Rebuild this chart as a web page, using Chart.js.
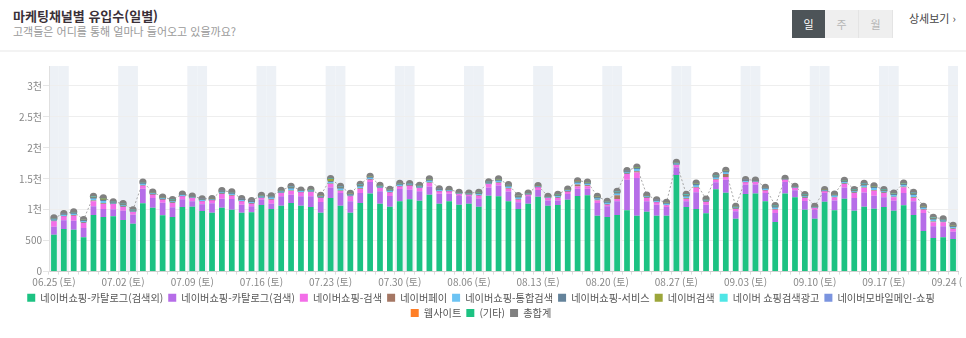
<!DOCTYPE html>
<html lang="ko">
<head>
<meta charset="utf-8">
<script src="https://cdn.jsdelivr.net/npm/chart.js@4.4.1/dist/chart.umd.min.js"></script>
<style>
  html, body { margin: 0; padding: 0; background: #fff; }
  body { width: 966px; height: 338px; position: relative; overflow: hidden;
         font-family: 'Noto Sans CJK KR', 'Noto Sans', sans-serif; }
  .title { position: absolute; left: 13px; top: 6px; font-size: 13px; font-weight: bold; color: #3a3038; }
  .sub { position: absolute; left: 13px; top: 23px; font-size: 11px; color: #9a9a9a; }
  .tabs { position: absolute; left: 792px; top: 10px; display: flex; height: 28px; }
  .tabs span { width: 33px; line-height: 28px; text-align: center; font-size: 11px; background: #efefef; color: #b5b5b5; border-right: 1px solid #e4e4e4; }
  .tabs span.on { background: #4d5458; color: #fff; border-right: none; }
  .more { position: absolute; left: 909px; top: 10px; font-size: 11px; color: #444; }
  .sep { position: absolute; left: 0; top: 50px; width: 966px; height: 2px; background: #f3f3f3; }
  .wrap { position: absolute; left: 0; top: 52px; width: 962px; height: 286px; overflow: hidden; }
</style>
</head>
<body>
<div class="title">마케팅채널별 유입수(일별)</div>
<div class="sub">고객들은 어디를 통해 얼마나 들어오고 있을까요?</div>
<div class="tabs"><span class="on">일</span><span>주</span><span>월</span></div>
<div class="more">상세보기 ›</div>
<div class="sep"></div>
<div class="wrap"><canvas id="chart"></canvas></div>
<script>
// 2022.06.25 (Sat) ~ 2022.09.24 (Sat), daily
const startDate = new Date(2022, 5, 25);
const dayCount = 92;
const dates = [];
for (let i = 0; i < dayCount; i++) {
    dates.push(new Date(startDate.getFullYear(), startDate.getMonth(), startDate.getDate() + i));
}
const labels = dates.map(d => String(d.getMonth() + 1).padStart(2, '0') + '.' + String(d.getDate()).padStart(2, '0'));

const yTickValues = [0, 500, 1000, 1500, 2000, 2500, 3000];
const yMax = 3320;

const catalogEtc = [597,688,677,554,914,882,892,833,774,1102, 1032,909,882,1043,1048,978,952,1032,1000,952,
    957,1075,1011,1064,1107,1064,1043,952,1188,1064, 952,1107,1263,1097,1048,1134,1167,1145,1242,1097,
    1134,1081,1097,1048,1226,1215,1134,1011,1097,1210, 1064,1075,1161,1220,1231,903,882,914,989,903,
    968,903,903,1559,1043,1011,941,1328,1274,855, 1253,1263,1134,801,1263,1199,1000,855,1129,989,
    1177,984,1048,1016,1043,984,1070,914,656,543, 554,527];
const catalogSearch = [129,140,145,151,140,129,113,151,145,237, 156,204,156,124,86,108,151,145,172,129,
    97,86,86,151,134,151,172,172,172,204, 183,161,183,199,172,199,156,151,134,161,
    124,145,118,134,134,177,161,108,118,108, 86,75,91,118,108,204,172,220,495,607,
    167,177,140,124,91,269,140,113,210,118, 151,145,134,145,183,113,140,145,140,161,
    183,204,231,210,156,161,199,220,290,188, 177,118];
const shopSearch = [86,65,81,81,81,81,86,59,43,48, 54,48,70,48,54,48,48,75,54,54,
    43,27,65,54,59,65,70,65,54,32, 81,65,38,54,59,43,65,54,54,38,
    38,27,27,43,54,38,43,43,27,43, 38,38,38,38,38,43,27,38,91,91,
    54,38,27,38,38,75,43,43,43,38, 38,38,43,54,38,38,48,27,27,48,
    54,81,70,81,70,54,91,54,54,65, 65,43];
const naverPay = [8,6,9,8,12,10,6,8,6,9, 6,6,8,6,5,6,4,8,9,6,
    7,6,9,6,11,6,6,6,8,11, 7,11,8,6,7,7,5,6,10,6,
    5,4,4,8,6,10,10,10,4,4, 4,9,6,30,18,10,8,60,8,20,
    7,6,7,6,11,11,7,10,50,6, 6,5,7,10,3,4,8,4,4,8,
    9,8,11,11,8,10,10,14,8,12, 8,9];
const shopIntegrated = [22,17,24,22,32,39,15,22,15,24, 17,17,22,15,13,17,11,22,24,17,
    19,17,24,17,30,15,17,17,25,30, 19,30,22,17,19,19,13,17,26,17,
    13,11,11,22,15,26,26,26,11,11, 11,24,17,28,22,26,22,30,22,34,
    19,17,19,17,30,30,19,26,28,17, 17,13,19,26,9,11,22,11,11,22,
    24,22,30,30,22,28,28,36,22,32, 22,24];
const shopService = [12,9,13,12,18,21,8,12,8,13, 9,9,12,8,7,9,6,12,13,9,
    11,9,13,9,17,8,9,9,12,17, 11,17,12,9,11,11,7,9,14,9,
    7,6,6,12,8,14,14,14,6,6, 6,13,9,15,12,14,12,15,12,16,
    11,9,11,9,17,17,11,14,14,9, 9,7,11,14,5,6,12,6,6,12,
    13,12,17,17,12,15,15,20,12,18, 12,13];
const naverSearch = [5,4,6,5,8,20,4,5,4,6, 4,4,5,4,3,4,3,5,6,4,
    5,4,6,4,8,4,4,4,35,8, 5,8,5,4,5,5,3,4,7,4,
    3,3,3,5,4,7,7,7,3,3, 3,6,4,8,8,7,5,8,5,8,
    5,4,5,4,8,8,5,7,8,4, 4,3,5,7,2,3,5,3,3,5,
    6,5,8,8,5,7,7,9,5,8, 5,6];
const shopAds = [4,3,4,4,6,4,3,4,3,4, 3,3,4,3,2,3,2,4,4,3,
    3,3,4,3,5,3,3,3,4,5, 3,5,4,3,3,3,2,3,5,3,
    2,2,2,4,3,5,5,5,2,2, 2,4,3,5,5,5,4,6,4,5,
    3,3,3,3,5,5,3,5,5,3, 3,2,3,5,2,2,4,2,2,4,
    4,4,5,5,4,5,5,6,4,6, 4,4];
const mobileMain = [2,2,2,2,3,2,1,2,1,2, 2,2,2,1,1,2,1,2,2,2,
    2,2,2,2,3,1,2,2,2,3, 2,3,2,2,2,2,1,2,2,2,
    1,1,1,2,1,2,2,2,1,1, 1,2,2,3,3,2,2,3,2,2,
    2,2,2,2,3,3,2,2,2,2, 2,1,2,2,1,1,2,1,1,2,
    2,2,3,3,2,3,3,4,2,3, 2,2];
const website = [1,1,1,1,1,1,0,1,0,1, 1,1,1,0,0,1,0,1,1,1,
    1,1,1,1,1,0,1,1,1,1, 1,1,1,1,1,1,0,1,1,1,
    0,0,0,1,0,1,1,1,0,0, 0,1,1,1,1,1,1,1,1,1,
    1,1,1,1,1,1,1,1,1,1, 1,0,1,1,0,0,1,0,0,1,
    1,1,1,1,1,1,1,1,1,1, 1,1];
const etc = [1,0,1,0,1,1,0,0,0,1, 0,0,1,0,0,0,0,1,1,0,
    0,0,1,0,1,0,0,0,1,1, 0,1,0,0,0,0,0,0,1,0,
    0,0,0,1,0,1,1,1,0,0, 0,1,0,1,1,1,0,1,0,1,
    0,0,0,0,1,1,0,1,1,0, 0,0,0,1,0,0,1,0,0,1,
    1,1,1,1,1,1,1,1,1,1, 1,1];

const seriesNames = ['네이버쇼핑-카탈로그(검색외)', '네이버쇼핑-카탈로그(검색)', '네이버쇼핑-검색', '네이버페이',
    '네이버쇼핑-통합검색', '네이버쇼핑-서비스', '네이버검색', '네이버 쇼핑검색광고', '네이버모바일메인-쇼핑',
    '웹사이트', '(기타)'];
const seriesData = [catalogEtc, catalogSearch, shopSearch, naverPay, shopIntegrated, shopService,
    naverSearch, shopAds, mobileMain, website, etc];
const seriesColors = ['#1cc282', '#b66de8', '#f36ee8', '#a57764', '#6cc3f3', '#64839b',
    '#9ca63a', '#4fe6e6', '#7b94df', '#ff7f27', '#1cc282'];

// 총합계 = sum of all channels per day
const totals = labels.map((_, i) => seriesData.reduce((acc, arr) => acc + arr[i], 0));

const FONT = "'Noto Sans CJK KR', 'Noto Sans', sans-serif";

const weekendBands = {
    id: 'weekendBands',
    beforeDraw(chart) {
        const { ctx, chartArea, scales: { x } } = chart;
        const step = x.getPixelForValue(1) - x.getPixelForValue(0);
        ctx.save();
        ctx.fillStyle = '#edf1f6';
        dates.forEach((d, i) => {
            const wd = d.getDay();
            if (wd === 0 || wd === 6) {
                const cx = x.getPixelForValue(i);
                ctx.fillRect(cx - step / 2, chartArea.top, step, chartArea.bottom - chartArea.top);
            }
        });
        ctx.restore();
    }
};

const datasets = seriesNames.map((name, k) => ({
    type: 'bar',
    label: name,
    data: seriesData[k],
    backgroundColor: seriesColors[k],
    stack: 'channels',
    barPercentage: 0.58,
    categoryPercentage: 1
}));
datasets.push({
    type: 'line',
    label: '총합계',
    data: totals,
    stack: 'total',
    borderColor: '#a8a8a8',
    backgroundColor: '#808080',
    borderWidth: 1,
    borderDash: [2, 2],
    pointRadius: 3.6,
    pointBackgroundColor: '#808080',
    pointBorderWidth: 0,
    tension: 0
});

new Chart(document.getElementById('chart').getContext('2d'), {
    data: { labels, datasets },
    plugins: [weekendBands],
    options: {
        responsive: true,
        maintainAspectRatio: false,
        animation: false,
        layout: { padding: { top: 14, left: 0, right: 0, bottom: 10 } },
        plugins: {
            tooltip: { enabled: false },
            legend: {
                position: 'bottom',
                labels: {
                    boxWidth: 8,
                    boxHeight: 8,
                    padding: 5,
                    color: '#555',
                    font: { family: FONT, size: 10.2 },
                    generateLabels(chart) {
                        return Chart.defaults.plugins.legend.labels.generateLabels(chart).map(item => {
                            const ds = chart.data.datasets[item.datasetIndex];
                            item.fillStyle = ds.type === 'line' ? ds.pointBackgroundColor : ds.backgroundColor;
                            item.strokeStyle = item.fillStyle;
                            item.lineWidth = 0;
                            item.lineDash = [];
                            return item;
                        });
                    }
                }
            }
        },
        scales: {
            x: {
                stacked: true,
                offset: true,
                grid: { display: true, drawOnChartArea: false, drawTicks: true, tickLength: 3, tickColor: '#dddddd' },
                border: { color: '#cfcfcf' },
                ticks: {
                    autoSkip: false,
                    maxRotation: 0,
                    padding: 2,
                    color: '#888',
                    font: { family: FONT, size: 10 },
                    callback: (val, idx) => idx % 7 === 0 ? labels[idx] + ' (토)' : ''
                },
                afterFit(scale) {
                    scale.paddingLeft = 0;
                    scale.paddingRight = 0;
                    scale.height = 16;
                }
            },
            y: {
                stacked: true,
                min: 0,
                max: yMax,
                grid: { color: '#eeeeee', tickLength: 6, tickColor: '#e6e6e6' },
                border: { color: '#e0e0e0' },
                ticks: {
                    padding: 1,
                    color: '#888',
                    font: { family: FONT, size: 10 },
                    callback: v => v >= 1000 ? (v / 1000) + '천' : v
                },
                afterBuildTicks(scale) {
                    scale.ticks = yTickValues.map(v => ({ value: v }));
                },
                afterFit(scale) {
                    scale.width = 49;
                }
            }
        }
    }
});
</script>
</body>
</html>
